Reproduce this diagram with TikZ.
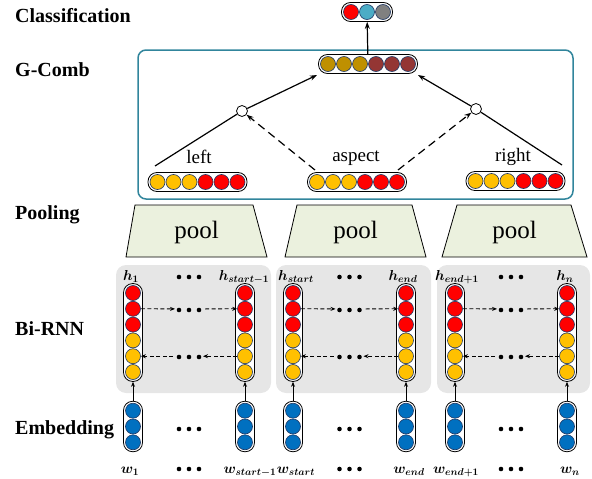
\documentclass[tikz,border=0pt]{standalone}
\usepackage{fontspec}
\setmainfont{Liberation Serif}
\usepackage{amsmath}
\usepackage{bm}
\usetikzlibrary{arrows.meta,calc}

\definecolor{cRed}{HTML}{FF0000}
\definecolor{cYel}{HTML}{FFC000}
\definecolor{cGold}{HTML}{BF9000}
\definecolor{cBrown}{HTML}{943634}
\definecolor{cBlue}{HTML}{0070C0}
\definecolor{cTeal}{HTML}{4BACC6}
\definecolor{cGray}{HTML}{808080}
\definecolor{cNavy}{HTML}{1F3864}
\definecolor{boxTeal}{HTML}{31859C}
\definecolor{poolFill}{HTML}{EBF1DE}
\definecolor{panelFill}{HTML}{E6E6E6}

\tikzset{
  capsule/.style={draw=black, line width=0.8pt, fill=white, rounded corners=9pt, inner sep=0pt},
  cell/.style={circle, draw=cNavy, line width=0.6pt, minimum size=15pt, inner sep=0pt},
  junction/.style={circle, draw=black, line width=0.8pt, fill=white, minimum size=11pt, inner sep=0pt},
  layerlabel/.style={font=\fontsize{20}{22}\selectfont\bfseries, anchor=base west, inner sep=0pt},
  wordlabel/.style={font=\fontsize{19}{21}\selectfont, anchor=base, inner sep=0pt},
  poolbox/.style={draw=black, line width=0.8pt, fill=poolFill},
  panel/.style={fill=panelFill, rounded corners=10pt},
  combline/.style={line width=1.2pt},
  combarrow/.style={line width=1.2pt, -{Stealth[length=7pt,width=5pt]}},
  combdash/.style={line width=1.2pt, dash pattern=on 8pt off 5pt, -{Stealth[length=7pt,width=5pt]}},
  rnnarrow/.style={line width=0.8pt, dash pattern=on 4pt off 2.5pt, -{Stealth[length=5pt,width=4pt]}},
  uparrow/.style={line width=0.8pt, -{Stealth[length=5pt,width=4pt]}},
  ellip/.style={circle, fill=black, minimum size=4.6pt, inner sep=0pt},
  hlab/.style={font=\fontsize{14}{16}\selectfont, anchor=base, inner sep=0pt},
}

% horizontal vector: name, count, x, y, colours
\newcommand{\hvec}[5]{%
  \node[capsule, minimum width={#2*16pt+3pt}, minimum height=19pt] (#1) at (#3,#4) {};
  \foreach \c [count=\i] in {#5}
    \node[cell, fill=\c] (#1-\i) at ({#3+(\i-(#2+1)/2)*16},#4) {};
}
% vertical vector: name, count, x, y, colours (top to bottom)
\newcommand{\vvec}[5]{%
  \node[capsule, minimum height={#2*15.8pt+3pt}, minimum width=19pt] (#1) at (#3,#4) {};
  \foreach \c [count=\i] in {#5}
    \node[cell, fill=\c] (#1-\i) at (#3,{#4+(\i-(#2+1)/2)*15.8}) {};
}
% three ellipsis dots centred at x, y
\newcommand{\threedots}[3]{%
  \foreach \k in {-1,0,1}
    \node[ellip] (#1\k) at ({#2+\k*10},#3) {};
}

\begin{document}
\begin{tikzpicture}[x=1pt,y=-1pt]
\useasboundingbox (0,0) rectangle (592,479);

% layer names
\node[layerlabel] (lcls) at (15,23) {Classification};
\node[layerlabel] (lcomb) at (15,76) {G-Comb};
\node[layerlabel] (lpool) at (15,219.5) {Pooling};
\node[layerlabel] (lrnn) at (15,335) {Bi-RNN};
\node[layerlabel] (lemb) at (15,434) {Embedding};

% G-Comb frame
\draw[boxTeal, line width=1.5pt, rounded corners=8pt] (138,50) rectangle (573,199);

% vectors in the combination layer
\hvec{cls}{3}{367}{12}{cRed,cTeal,cGray}
\hvec{top}{6}{368}{64}{cGold,cGold,cGold,cBrown,cBrown,cBrown}
\hvec{lv}{6}{197.5}{182}{cYel,cYel,cYel,cRed,cRed,cRed}
\hvec{av}{6}{357}{182}{cYel,cYel,cYel,cRed,cRed,cRed}
\hvec{rv}{6}{515.5}{181}{cYel,cYel,cYel,cRed,cRed,cRed}

\node[wordlabel] (tleft) at (199,163) {left};
\node[wordlabel] (taspect) at (356,161) {aspect};
\node[wordlabel] (tright) at (513,161) {right};

\node[junction] (jl) at (242,111) {};
\node[junction] (jr) at (476,109) {};

\coordinate (ls) at (155,166);
\coordinate (rs) at (562,165);
\coordinate (as1) at (315,170);
\coordinate (as2) at (398,170);
\coordinate (tin1) at (317,75);
\coordinate (tin2) at (418,75);

\draw[combline] (ls) -- (jl);
\draw[combarrow] (jl) -- (tin1);
\draw[combline] (rs) -- (jr);
\draw[combarrow] (jr) -- (tin2);
\draw[combdash] (as1) -- (jl);
\draw[combdash] (as2) -- (jr);
\draw[combarrow] (top) -- (cls);

% pooling
\draw[poolbox] (135,205) -- (253,205) -- (267,257) -- (126,257) -- cycle;
\draw[poolbox] (297,205) -- (412,205) -- (426,257) -- (285,257) -- cycle;
\draw[poolbox] (457,205) -- (571,205) -- (587,257) -- (442,257) -- cycle;
\node[font=\fontsize{25}{27}\selectfont, anchor=base, inner sep=0pt] (p1) at (196.5,238) {pool};
\node[font=\fontsize{25}{27}\selectfont, anchor=base, inner sep=0pt] (p2) at (355.5,238) {pool};
\node[font=\fontsize{25}{27}\selectfont, anchor=base, inner sep=0pt] (p3) at (514.5,238) {pool};

% Bi-RNN panels
\fill[panel] (116,265) rectangle (271,393);
\fill[panel] (276,265) rectangle (431,393);
\fill[panel] (437,265) rectangle (590,393);

\foreach \nm/\x in {r1/133, r2/245, r3/293, r4/406, r5/455, r6/567}{
  \vvec{\nm}{6}{\x}{332.5}{cRed,cRed,cRed,cYel,cYel,cYel}
  \vvec{e\nm}{3}{\x}{426.5}{cBlue,cBlue,cBlue}
  \draw[uparrow] (e\nm) -- (\nm);
}

\node[hlab] (h1) at (131,280) {$\bm{h_1}$};
\node[hlab] (h2) at (244,280) {$\bm{h_{start-1}}$};
\node[hlab] (h3) at (296,280) {$\bm{h_{start}}$};
\node[hlab] (h4) at (403,280) {$\bm{h_{end}}$};
\node[hlab] (h5) at (457,280) {$\bm{h_{end+1}}$};
\node[hlab] (h6) at (565,280) {$\bm{h_n}$};

\node[hlab] (w1) at (130,473) {$\bm{w_1}$};
\node[hlab] (w2) at (250,473) {$\bm{w_{start-1}}$};
\node[hlab] (w3) at (296,473) {$\bm{w_{start}}$};
\node[hlab] (w4) at (409,473) {$\bm{w_{end}}$};
\node[hlab] (w5) at (456,473) {$\bm{w_{end+1}}$};
\node[hlab] (w6) at (570,473) {$\bm{w_n}$};

% ellipses and recurrent arrows
\foreach \p/\cx/\a/\b in {a/189/r1/r2, b/349.5/r3/r4, c/511/r5/r6}{
  \threedots{t\p}{\cx}{277}
  \threedots{m\p}{\cx}{310}
  \threedots{n\p}{\cx}{357}
  \threedots{e\p}{\cx}{429}
  \threedots{b\p}{\cx}{469}
  \coordinate (f1\p) at ({\cx-14},308.9);
  \coordinate (f2\p) at ({\cx+16},308.9);
  \coordinate (g1\p) at ({\cx-16},356.2);
  \coordinate (g2\p) at ({\cx+14},356.2);
  \draw[rnnarrow] (\a-2.east) -- (f1\p);
  \draw[rnnarrow] (f2\p) -- (\b-2.west);
  \draw[rnnarrow] (\b-5.west) -- (g2\p);
  \draw[rnnarrow] (g1\p) -- (\a-5.east);
}
\end{tikzpicture}
\end{document}
